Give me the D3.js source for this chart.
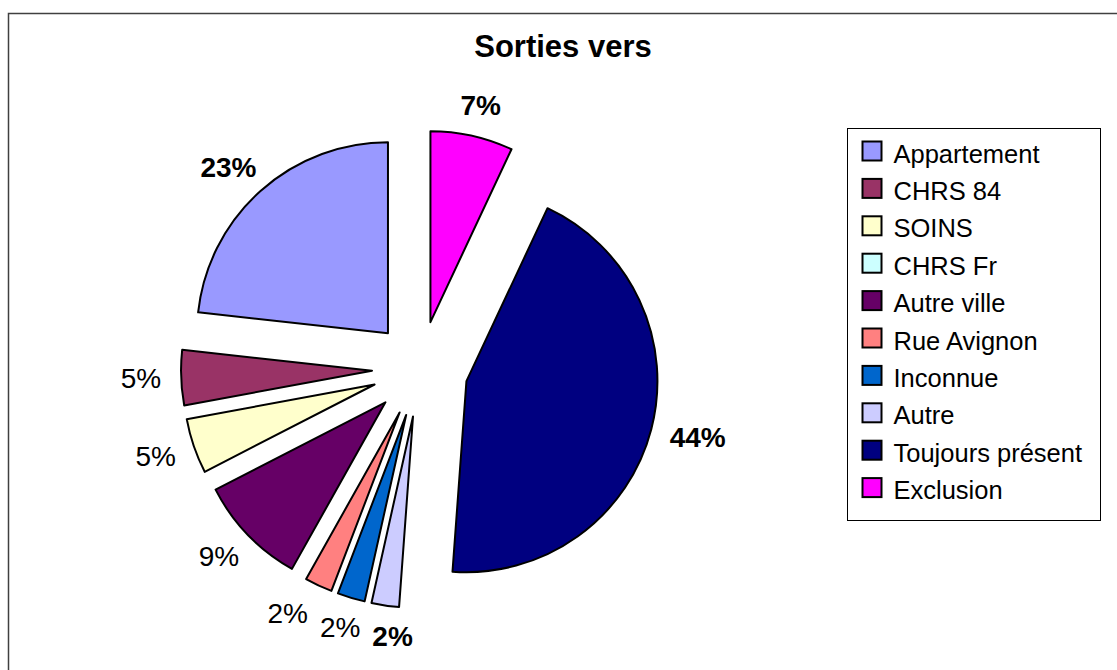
<!DOCTYPE html>
<html>
<head>
<meta charset="utf-8">
<script src="https://cdn.jsdelivr.net/npm/d3@7"></script>
<style>
  body { margin: 0; background: #fff; }
  text { font-family: "Liberation Sans", Arial, sans-serif; }
</style>
</head>
<body>
<div id="chart"></div>
<script>
// data: counts per exit destination (43 people)
var categories = ["Appartement", "CHRS 84", "SOINS", "CHRS Fr", "Autre ville",
    "Rue Avignon", "Inconnue", "Autre", "Toujours présent", "Exclusion"];
var counts = [10, 2, 2, 0, 4, 1, 1, 1, 19, 3];
var colors = ["#9999FF", "#993366", "#FFFFCC", "#CCFFFF", "#660066",
    "#FF8080", "#0066CC", "#CCCCFF", "#000080", "#FF00FF"];
// labels that are shown in bold in the original
var boldLabels = ["Appartement", "Autre", "Toujours présent", "Exclusion"];

var width = 1117, height = 670;

var svg = d3.select("#chart")
    .append("svg")
    .attr("width", width)
    .attr("height", height);

// chart area border (runs off the right and bottom edges)
svg.append("rect")
    .attr("x", 8.5)
    .attr("y", 13.5)
    .attr("width", width + 20)
    .attr("height", height + 20)
    .style("fill", "none")
    .style("stroke", "#404040")
    .style("stroke-width", 1.5);

svg.append("text")
    .attr("x", 563)
    .attr("y", 57)
    .attr("text-anchor", "middle")
    .style("font-size", "31px")
    .style("font-weight", "bold")
    .text("Sorties vers");

var cx = 420, cy = 369, radius = 191, explode = 48;

var data = categories.map(function (c, i) {
    return { name: c, value: counts[i], color: colors[i] };
});
var total = d3.sum(counts);

// excel draws the series counter-clockwise from 12 o'clock here
var pie = d3.pie()
    .sort(null)
    .value(function (d) { return d.value; })
    .startAngle(0)
    .endAngle(-2 * Math.PI);

var arc = d3.arc()
    .innerRadius(0)
    .outerRadius(radius);

var arcs = pie(data).filter(function (d) { return d.data.value > 0; });

function dir(d) {
    var a = (d.startAngle + d.endAngle) / 2;
    return [Math.sin(a), -Math.cos(a)];
}

var g = svg.append("g")
    .attr("transform", "translate(" + cx + "," + cy + ")");

g.selectAll("path.slice")
    .data(arcs)
    .enter()
    .append("path")
    .attr("class", "slice")
    .attr("d", arc)
    .attr("transform", function (d) {
        var v = dir(d);
        return "translate(" + (v[0] * explode) + "," + (v[1] * explode) + ")";
    })
    .style("fill", function (d) { return d.data.color; })
    .style("stroke", "#000")
    .style("stroke-width", 2)
    .style("stroke-linejoin", "round");

// percentage labels outside each slice
var labels = g.selectAll("text.pct")
    .data(arcs)
    .enter()
    .append("text")
    .attr("class", "pct")
    .attr("text-anchor", "middle")
    .attr("dominant-baseline", "central")
    .style("font-size", "28px")
    .style("font-weight", function (d) {
        return boldLabels.indexOf(d.data.name) >= 0 ? "bold" : "normal";
    })
    .text(function (d) { return Math.round(d.data.value / total * 100) + "%"; });

var boxes = [];
labels.each(function (d) {
    var v = dir(d);
    var hw = this.getComputedTextLength() / 2, hh = 11;
    var rr = explode + radius + 20;
    boxes.push({ el: this, x: v[0] * (rr + hw), y: v[1] * (rr + hh), hw: hw, hh: hh });
});

// push overlapping labels apart sideways, like excel does for the thin slices
var gap = 12;
for (var it = 0; it < 50; it++) {
    for (var i = 0; i < boxes.length; i++) {
        for (var j = i + 1; j < boxes.length; j++) {
            var a = boxes[i], b = boxes[j];
            var dx = b.x - a.x, dy = b.y - a.y;
            var ox = a.hw + b.hw + gap - Math.abs(dx);
            var oy = a.hh + b.hh - Math.abs(dy);
            if (ox > 0 && oy > 0) {
                var s = dx >= 0 ? 1 : -1;
                a.x -= s * ox / 2;
                b.x += s * ox / 2;
            }
        }
    }
}
boxes.forEach(function (b) {
    d3.select(b.el).attr("x", b.x).attr("y", b.y);
});

// legend
var legend = svg.append("g")
    .attr("transform", "translate(847.5,128.5)");

legend.append("rect")
    .attr("width", 253)
    .attr("height", 392)
    .style("fill", "#fff")
    .style("stroke", "#000")
    .style("stroke-width", 1);

var rows = legend.selectAll("g.row")
    .data(data)
    .enter()
    .append("g")
    .attr("class", "row")
    .attr("transform", function (d, i) { return "translate(0," + (23 + i * 37.4) + ")"; });

rows.append("rect")
    .attr("x", 15)
    .attr("y", -10)
    .attr("width", 19)
    .attr("height", 19)
    .style("fill", function (d) { return d.color; })
    .style("stroke", "#000")
    .style("stroke-width", 2);

rows.append("text")
    .attr("x", 46)
    .attr("y", 11)
    .style("font-size", "25.5px")
    .text(function (d) { return d.name; });
</script>
</body>
</html>
